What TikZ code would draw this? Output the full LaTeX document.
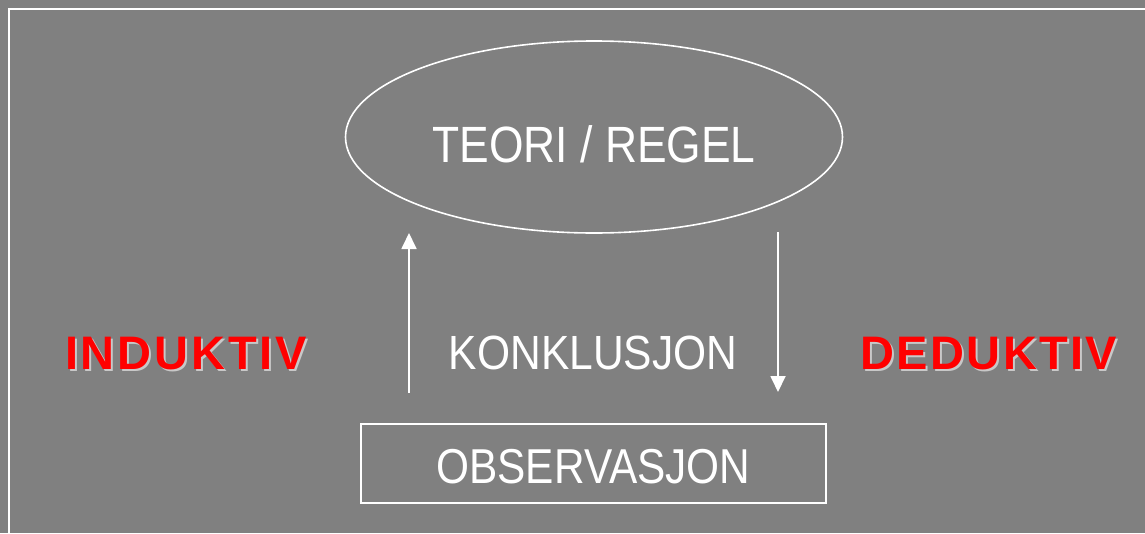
\documentclass[tikz,border=0pt]{standalone}
\usepackage{fontspec}
\setmainfont{Liberation Sans}
\newfontfamily\boldspaced[LetterSpace=6]{Liberation Sans Bold}
\newfontfamily\boldspacedb[LetterSpace=5]{Liberation Sans Bold}
\usetikzlibrary{arrows.meta,shapes.geometric}
\definecolor{bggray}{HTML}{808080}
\definecolor{shadowgray}{HTML}{C8C8C8}
\definecolor{redtext}{HTML}{FF0000}
\tikzset{
  whiteline/.style={draw=white, line width=1.6pt},
  plaintext/.style={text=white, inner sep=0pt, anchor=base},
  methodtext/.style={font=\boldspaced\fontsize{47}{52}\selectfont, inner sep=0pt, anchor=base},
  methodtextb/.style={font=\boldspacedb\fontsize{47}{52}\selectfont, inner sep=0pt, anchor=base},
  flowarrow/.style={draw=white, line width=1.8pt, -{Triangle[length=16pt,width=15pt]}},
}
\begin{document}
\begin{tikzpicture}[x=1pt,y=-1pt]
\useasboundingbox (0,0) rectangle (1145,533);
\fill[bggray] (0,0) rectangle (1145,533);
\draw[whiteline] (9,9) rectangle (1160,550);
\node[whiteline, ellipse, minimum width=497pt, minimum height=192pt] (teori) at (594,137) {};
\node[plaintext, font=\fontsize{51}{56}\selectfont] (teoritext) at (594,162) {\scalebox{0.87}[1]{TEORI / REGEL}};
\node[whiteline, rectangle, minimum width=465pt, minimum height=79pt, inner sep=0pt] (obs) at (593.5,463.5) {};
\node[plaintext, font=\fontsize{49}{54}\selectfont] (obstext) at (593.5,483) {\scalebox{0.865}[1]{OBSERVASJON}};
\node[plaintext, font=\fontsize{48}{53}\selectfont] (konk) at (593,369) {\scalebox{0.886}[1]{KONKLUSJON}};
\coordinate (upstart) at (409,393);
\coordinate (upend) at (409,233);
\coordinate (downstart) at (778,232);
\coordinate (downend) at (778,392);
\draw[flowarrow] (upstart) -- (upend);
\draw[flowarrow] (downstart) -- (downend);
\node[methodtext, text=shadowgray] (indshadow) at (188,371) {INDUKTIV};
\node[methodtext, text=redtext] (ind) at (186,369) {INDUKTIV};
\node[methodtextb, text=shadowgray] (dedshadow) at (991,371) {DEDUKTIV};
\node[methodtextb, text=redtext] (ded) at (989,369) {DEDUKTIV};
\end{tikzpicture}
\end{document}
